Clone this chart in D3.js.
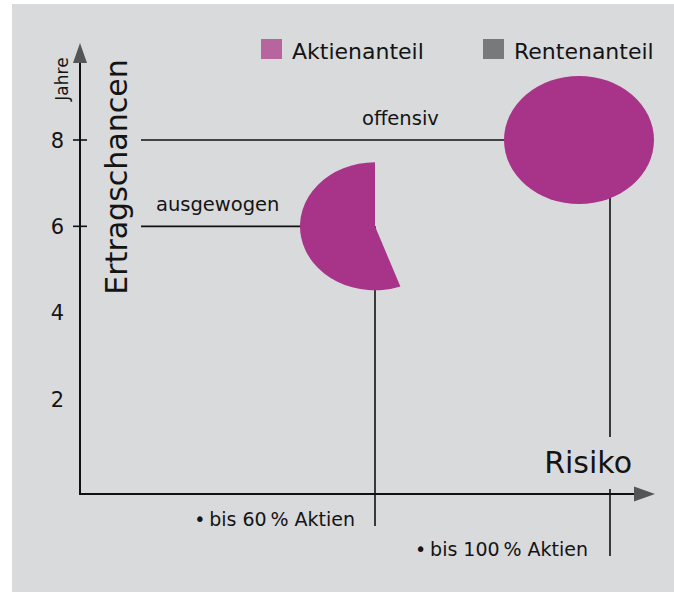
<!DOCTYPE html>
<html>
<head>
<meta charset="utf-8">
<script src="https://cdn.jsdelivr.net/npm/d3@7"></script>
<style>
  body { margin: 0; background: #fff; }
  text { font-family: "DejaVu Sans", sans-serif; fill: #141414; }
</style>
</head>
<body>
<svg width="674" height="592"></svg>
<script>
// portfolios: name, years (Ertragschancen), max share of stocks (Risiko)
const portfolios = ["ausgewogen", "offensiv"];
const years = [6, 8];
const maxAktien = [60, 100];
// shares inside each pie (Aktienanteil / Rentenanteil)
const aktienAnteil = [55.5, 100];
const rentenAnteil = [44.5, 0];

const yTickLabels = [2, 4, 6, 8];
const yTickMarks = [6, 8];
const legendLabels = ["Aktienanteil", "Rentenanteil"];
const riskLabels = ["bis 60\u2009% Aktien", "bis 100\u2009% Aktien"];

const pieColor = "#a8348a";
const legendColors = ["#b7659f", "#78797b"];

let svg = d3.select("svg");

// background panel
svg.append("rect")
  .attr("x", 12).attr("y", 4)
  .attr("width", 662).attr("height", 588)
  .attr("fill", "#d9dadc");

let y = d3.scaleLinear().domain([2, 8]).range([399, 140]);
let x = d3.scaleLinear().domain([60, 100]).range([375, 610]);

const axisX = 80, axisY = 494;

// vertical guide lines (under the pies)
let g = svg.append("g");
g.append("line")
  .attr("x1", x(maxAktien[0])).attr("x2", x(maxAktien[0]))
  .attr("y1", y(years[0])).attr("y2", 526)
  .attr("stroke", "#111").attr("stroke-width", 1.6);
g.append("line")
  .attr("x1", x(maxAktien[1])).attr("x2", x(maxAktien[1]))
  .attr("y1", y(years[1])).attr("y2", 437)
  .attr("stroke", "#111").attr("stroke-width", 1.6);
g.append("line")
  .attr("x1", x(maxAktien[1])).attr("x2", x(maxAktien[1]))
  .attr("y1", 489).attr("y2", 556)
  .attr("stroke", "#111").attr("stroke-width", 1.6);

// horizontal guide lines to the pies
const pieRx = 75, pieRy = 64;
const pieCx = [x(maxAktien[0]), x(maxAktien[1]) - 31];
portfolios.forEach((p, i) => {
  g.append("line")
    .attr("x1", 141).attr("x2", pieCx[i] - pieRx + 1)
    .attr("y1", y(years[i])).attr("y2", y(years[i]))
    .attr("stroke", "#111").attr("stroke-width", 1.6);
});

// labels on the lines
svg.append("text").attr("x", 156).attr("y", y(years[0]) - 15)
  .attr("font-size", 19.5).text(portfolios[0]);
svg.append("text").attr("x", 362).attr("y", y(years[1]) - 15)
  .attr("font-size", 19.5).text(portfolios[1]);

// pies (ellipses: stretched horizontally)
let pie = d3.pie().sort(null).value(d => d.value);
let arc = d3.arc().innerRadius(0).outerRadius(pieRy);

portfolios.forEach((p, i) => {
  let slices = pie([
    {key: "Renten", value: rentenAnteil[i]},
    {key: "Aktien", value: aktienAnteil[i]}
  ]);
  let pg = svg.append("g")
    .attr("transform", `translate(${pieCx[i]},${y(years[i])}) scale(${pieRx / pieRy},1)`);
  pg.selectAll("path")
    .data(slices.filter(s => s.data.key === "Aktien" && s.data.value > 0))
    .enter()
    .append("path")
    .attr("d", arc)
    .attr("fill", pieColor);
});

// axes
svg.append("line")
  .attr("x1", axisX).attr("x2", axisX)
  .attr("y1", axisY + 1).attr("y2", 60)
  .attr("stroke", "#111").attr("stroke-width", 2);
svg.append("line")
  .attr("x1", axisX - 1).attr("x2", 636)
  .attr("y1", axisY).attr("y2", axisY)
  .attr("stroke", "#111").attr("stroke-width", 2);

// arrow heads
svg.append("path")
  .attr("d", `M${axisX},43 L${axisX + 7},63 L${axisX - 7},63 Z`)
  .attr("fill", "#555");
svg.append("path")
  .attr("d", `M655,${axisY} L634,${axisY - 7.5} L634,${axisY + 7.5} Z`)
  .attr("fill", "#555");

// y ticks
svg.selectAll(".tick")
  .data(yTickMarks)
  .enter()
  .append("line")
  .attr("x1", 73).attr("x2", 87)
  .attr("y1", d => y(d)).attr("y2", d => y(d))
  .attr("stroke", "#111").attr("stroke-width", 1.6);

svg.selectAll(".ylab")
  .data(yTickLabels)
  .enter()
  .append("text")
  .attr("x", 64)
  .attr("y", d => y(d))
  .attr("dy", "0.36em")
  .attr("text-anchor", "end")
  .attr("font-size", 21)
  .text(d => d);

// axis titles
svg.append("text")
  .attr("transform", "translate(127,177) rotate(-90)")
  .attr("text-anchor", "middle")
  .attr("font-size", 30)
  .text("Ertragschancen");
svg.append("text")
  .attr("transform", "translate(68,79) rotate(-90)")
  .attr("text-anchor", "middle")
  .attr("font-size", 17)
  .text("Jahre");
svg.append("text")
  .attr("x", 632).attr("y", 473)
  .attr("text-anchor", "end")
  .attr("font-size", 30)
  .text("Risiko");

// risk labels
const riskX = [355, 588], riskY = [526, 556];
riskLabels.forEach((t, i) => {
  svg.append("text")
    .attr("x", riskX[i]).attr("y", riskY[i])
    .attr("text-anchor", "end")
    .attr("font-size", 19)
    .text("\u2022\u2009" + t);
});

// legend
const legX = [261, 483];
legendLabels.forEach((t, i) => {
  svg.append("rect")
    .attr("x", legX[i]).attr("y", 39)
    .attr("width", 21).attr("height", 20)
    .attr("fill", legendColors[i]);
  svg.append("text")
    .attr("x", legX[i] + 31).attr("y", 59)
    .attr("font-size", 22)
    .text(t);
});
</script>
</body>
</html>
